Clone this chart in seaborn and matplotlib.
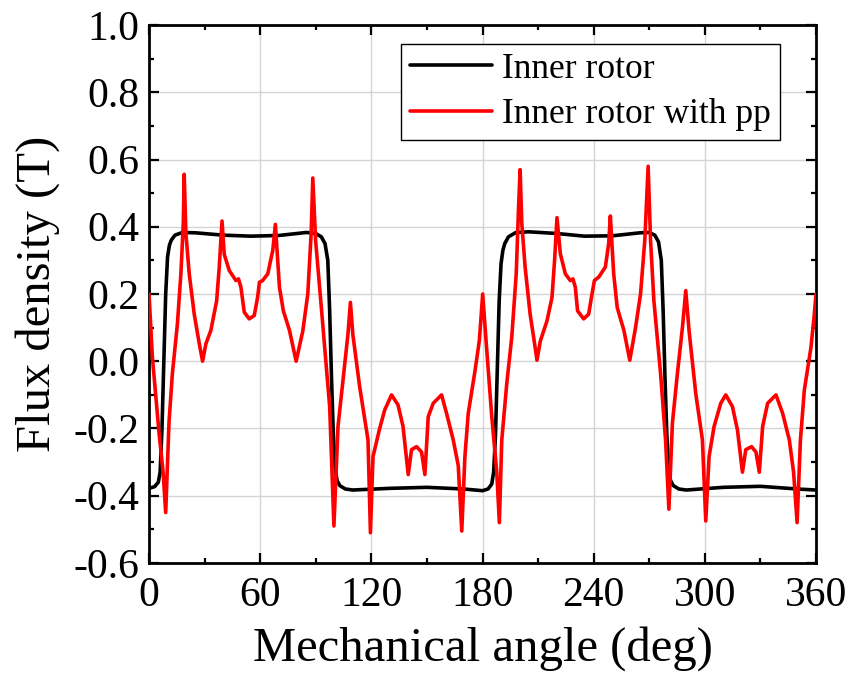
import numpy as np
import pandas as pd
import matplotlib
matplotlib.use('Agg')
import matplotlib.pyplot as plt
from matplotlib.ticker import MultipleLocator
import seaborn as sns

# black curve: inner rotor (angle in deg, flux density in T)
inner_deg = [0, 3, 5, 6, 7, 8, 9, 10, 11, 12, 14, 18, 25, 40, 55, 70, 85, 90, 93, 95,
             96.5, 97.5, 98.5, 99.5, 100.5, 101.5, 103, 106, 110, 130, 150, 170, 180,
             183, 185, 186, 187, 188, 189, 190, 191, 192, 194, 198, 205, 220, 235, 250,
             265, 270, 273, 275, 276.5, 277.5, 278.5, 279.5, 280.5, 281.5, 283, 286,
             290, 310, 330, 350, 360]
inner_b = [-0.378, -0.373, -0.36, -0.33, -0.2, 0.0, 0.2, 0.31, 0.345, 0.36, 0.375, 0.383,
           0.382, 0.375, 0.372, 0.374, 0.383, 0.38, 0.37, 0.35,
           0.3, 0.15, -0.05, -0.22, -0.32, -0.355, -0.37, -0.38, -0.383, -0.378, -0.375,
           -0.38, -0.385,
           -0.38, -0.365, -0.33, -0.22, -0.02, 0.18, 0.29, 0.33, 0.35, 0.37, 0.383, 0.385,
           0.38, 0.372, 0.373,
           0.382, 0.383, 0.375, 0.355, 0.3, 0.15, -0.05, -0.22, -0.32, -0.355, -0.37, -0.38,
           -0.383, -0.375, -0.372, -0.38, -0.383]

# red curve: inner rotor with pp
pp_deg = [0, 1.8, 5.4, 7.6, 9.0, 10.8, 12.6, 15.3, 17.2, 18.5, 19.0, 19.9, 21.7, 24.4,
          27.1, 28.9, 30.7, 33.4, 36.5, 37.9, 39.4, 40.6, 43.3, 46.9, 48.3, 49.6, 51.4,
          54.1, 56.8, 58.6, 59.6, 61.3, 64.1, 66.8, 68.2, 70.4, 72.5, 75.8, 79.4, 83.0,
          85.7, 87.5, 88.4, 89.9, 93.0, 97.5, 99.8, 102.0, 104.7, 107.4, 108.7, 110.0,
          113.7, 118.2, 119.5, 120.9, 124.5, 127.2, 130.9, 134.4, 137.1, 139.9, 141.7,
          144.4, 147.1, 148.9, 150.7, 153.4, 157.9, 160.6, 164.2, 166.9, 168.8, 170.5,
          172.3, 176.0, 178.3, 180.1, 181.9, 185.0, 187.7, 189.1, 190.4, 193.1, 195.8,
          198.2, 199.4, 200.3, 201.2, 203.0, 205.7, 207.9, 209.4, 211.2, 214.8, 217.5,
          218.9, 220.2, 222.0, 224.7, 227.4, 228.8, 230.1, 231.3, 234.6, 237.3, 239.1,
          240.4, 242.7, 246.3, 248.1, 249.0, 250.8, 252.7, 256.3, 259.5, 262.6, 265.3,
          267.6, 269.4, 270.7, 272.5, 276.1, 278.8, 280.6, 282.5, 285.2, 287.9, 289.7,
          291.5, 295.1, 298.7, 300.5, 302.3, 305.0, 308.6, 311.3, 314.9, 317.6, 320.3,
          322.1, 325.2, 327.6, 329.4, 331.2, 333.9, 338.4, 342.0, 345.6, 347.9, 349.8,
          351.6, 353.7, 357.3, 359.1, 360]
pp_b = [0.2, 0.013, -0.213, -0.33, -0.45, -0.18, -0.037, 0.11, 0.26, 0.41, 0.556, 0.38,
        0.26, 0.14, 0.053, 0.0, 0.052, 0.092, 0.18, 0.28, 0.417, 0.318, 0.27, 0.24, 0.245,
        0.22, 0.146, 0.126, 0.136, 0.19, 0.235, 0.24, 0.26, 0.33, 0.407, 0.22, 0.15, 0.092,
        0.0, 0.09, 0.2, 0.38, 0.545, 0.36, 0.16, -0.135, -0.49, -0.194, -0.056, 0.082,
        0.175, 0.08, -0.076, -0.234, -0.51, -0.283, -0.2, -0.145, -0.1, -0.13, -0.194,
        -0.337, -0.263, -0.254, -0.27, -0.337, -0.165, -0.125, -0.1, -0.155, -0.234, -0.31,
        -0.505, -0.283, -0.155, -0.027, 0.062, 0.2, 0.062, -0.165, -0.33, -0.48, -0.234,
        -0.066, 0.072, 0.26, 0.45, 0.57, 0.41, 0.28, 0.14, 0.06, 0.003, 0.06, 0.12, 0.19,
        0.3, 0.427, 0.32, 0.26, 0.24, 0.245, 0.22, 0.15, 0.126, 0.14, 0.2, 0.24, 0.25, 0.28,
        0.35, 0.432, 0.26, 0.16, 0.092, 0.003, 0.1, 0.2, 0.36, 0.58, 0.36, 0.18, -0.036,
        -0.234, -0.44, -0.184, -0.036, 0.1, 0.21, 0.09, -0.096, -0.234, -0.475, -0.283,
        -0.194, -0.125, -0.1, -0.135, -0.204, -0.33, -0.263, -0.254, -0.27, -0.33, -0.194,
        -0.125, -0.1, -0.155, -0.234, -0.33, -0.48, -0.234, -0.086, 0.042, 0.14, 0.2]

series_names = ['Inner rotor', 'Inner rotor with pp']
series_colors = ['black', '#ff0000']

df = pd.concat([
    pd.DataFrame({'angle': inner_deg, 'flux': inner_b, 'series': series_names[0]}),
    pd.DataFrame({'angle': pp_deg, 'flux': pp_b, 'series': series_names[1]}),
], ignore_index=True)

sns.set_style('ticks')
plt.rcParams['font.family'] = ['Liberation Serif', 'DejaVu Serif']
plt.rcParams['text.color'] = 'black'
plt.rcParams['axes.labelcolor'] = 'black'

fig = plt.figure(figsize=(8.54, 6.89), dpi=100)
ax = fig.add_axes([0.1745, 0.1829, 0.781, 0.7808])

ax.grid(True, which='major', color='#d4d4d4', linewidth=1.0, zorder=0)
for name, col in zip(series_names, series_colors):
    sns.lineplot(data=df[df['series'] == name], x='angle', y='flux', color=col,
                 linewidth=2.6, estimator=None, sort=False, label=name, ax=ax, zorder=3)

ax.set_xlim(0, 360)
ax.set_ylim(-0.6, 1.0)
ax.xaxis.set_major_locator(MultipleLocator(60))
ax.xaxis.set_minor_locator(MultipleLocator(30))
ax.yaxis.set_major_locator(MultipleLocator(0.2))
ax.yaxis.set_minor_locator(MultipleLocator(0.1))
ax.set_yticklabels([f'{v:.1f}' for v in ax.get_yticks()])

ax.tick_params(which='both', direction='in', top=True, right=True, width=1.6,
               colors='black', labelsize=30)
ax.tick_params(which='major', length=7)
ax.tick_params(which='minor', length=3.5)
ax.tick_params(axis='x', pad=10)
ax.tick_params(axis='y', pad=7)
for sp in ax.spines.values():
    sp.set_linewidth(2.0)
    sp.set_color('black')

ax.set_xlabel('Mechanical angle (deg)', fontsize=35, labelpad=8)
ax.set_ylabel('Flux density (T)', fontsize=35, labelpad=10)

leg = ax.legend(loc='upper right', bbox_to_anchor=(0.946, 0.965), borderaxespad=0,
                fontsize=25.5, frameon=True, fancybox=False, framealpha=1,
                handlelength=2.3, handletextpad=0.3, borderpad=0.25,
                labelspacing=0.35)
leg.get_frame().set_edgecolor('black')
leg.get_frame().set_linewidth(1.0)

fig.savefig('out.png', dpi=100)
